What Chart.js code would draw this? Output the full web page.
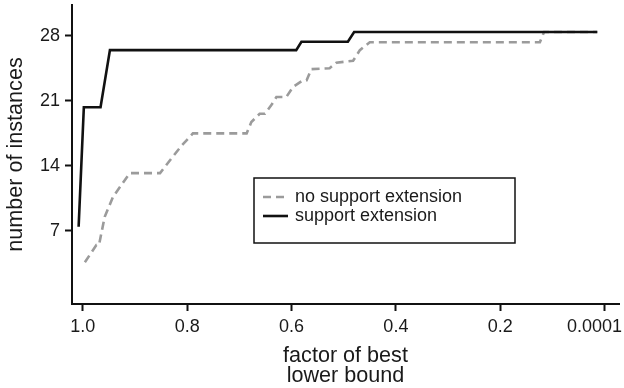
<!DOCTYPE html>
<html><head><meta charset="utf-8">
<script src="https://cdn.jsdelivr.net/npm/chart.js@4/dist/chart.umd.min.js"></script>
<style>html,body{margin:0;padding:0;background:#fff;} #wrap{width:624px;height:388px;}</style>
</head><body><div id="wrap"><canvas id="c" width="624" height="388"></canvas></div>
<script>
// ---- data ----
const xTickValues = [1.0, 0.8, 0.6, 0.4, 0.2, 0.0];
const xTickLabels = ["1.0", "0.8", "0.6", "0.4", "0.2", "0.0001"];
const yTickValues = [7, 14, 21, 28];
const seriesNames = ["no support extension", "support extension"];
const xTitle = ["factor of best", "lower bound"];
const yTitle = "number of instances";

const noExtX = [0.996, 0.974, 0.969, 0.958, 0.942, 0.910, 0.852, 0.830, 0.810, 0.789, 0.686, 0.677, 0.661, 0.651, 0.639, 0.629, 0.610, 0.597, 0.578, 0.571, 0.562, 0.527, 0.514, 0.482, 0.469, 0.450, 0.124, 0.116, 0.014];
const noExtY = [3.6, 5.46, 5.46, 8.5, 10.66, 13.2, 13.2, 14.8, 16.2, 17.48, 17.48, 18.7, 19.6, 19.6, 20.5, 21.4, 21.4, 22.5, 23.2, 23.2, 24.4, 24.5, 25.1, 25.3, 26.45, 27.3, 27.3, 28.4, 28.4];

const extX = [1.008, 0.998, 0.966, 0.948, 0.591, 0.581, 0.492, 0.480, 0.014];
const extY = [7.43, 20.3, 20.3, 26.45, 26.45, 27.35, 27.35, 28.4, 28.4];

// ---- chart ----
const FONT = "'Liberation Sans', Arial, Helvetica, sans-serif";
const toPts = (xs, ys) => xs.map((x, i) => ({x: x, y: ys[i]}));

const boxLegend = {
  id: 'boxLegend',
  afterDatasetsDraw(chart) {
    const ctx = chart.ctx, ca = chart.chartArea;
    const bx = ca.left + 182, by = ca.top + 173, bw = 261, bh = 65;
    ctx.save();
    ctx.lineWidth = 1.5;
    ctx.strokeStyle = '#111';
    ctx.strokeRect(bx, by, bw, bh);
    ctx.font = '18px ' + FONT;
    ctx.textBaseline = 'middle';
    ctx.textAlign = 'left';
    chart.data.datasets.forEach((ds, i) => {
      const yy = by + 19 + i * 19;
      ctx.beginPath();
      ctx.setLineDash(ds.borderDash || []);
      ctx.lineWidth = ds.borderWidth;
      ctx.strokeStyle = ds.borderColor;
      ctx.moveTo(bx + 9, yy);
      ctx.lineTo(bx + 34, yy);
      ctx.stroke();
      ctx.setLineDash([]);
      ctx.fillStyle = '#1a1a1a';
      ctx.fillText(ds.label, bx + 41, yy);
    });
    ctx.restore();
  }
};

// keep the last x tick label inside the canvas (as in the reference)
const keepLabelInside = {
  id: 'keepLabelInside',
  beforeDraw(chart) {
    const s = chart.scales.x;
    if (!s || !s.getLabelItems) return;
    const items = s.getLabelItems();
    const ctx = chart.ctx;
    items.forEach(it => {
      if (!it.options || !it.options.translation) return;
      ctx.save();
      ctx.font = it.font && it.font.string ? it.font.string : ('18px ' + FONT);
      const w = ctx.measureText(String(it.label)).width;
      ctx.restore();
      const maxX = chart.width - 2 - w / 2;
      if (it.options.translation[0] > maxX) it.options.translation[0] = maxX;
    });
  }
};

const noPad = (s) => { s.paddingLeft = 0; s.paddingRight = 0; s.paddingTop = 0; s.paddingBottom = 0; };

new Chart(document.getElementById('c'), {
  type: 'line',
  data: {
    datasets: [
      { label: seriesNames[0], data: toPts(noExtX, noExtY), order: 2, borderColor: '#9b9b9b', borderWidth: 2.6, borderDash: [8, 5], pointRadius: 0, tension: 0, fill: false },
      { label: seriesNames[1], data: toPts(extX, extY), order: 1, borderColor: '#111111', borderWidth: 2.6, pointRadius: 0, tension: 0, fill: false }
    ]
  },
  options: {
    responsive: false,
    animation: false,
    devicePixelRatio: 1,
    layout: { padding: { left: 0, right: 5, top: 5, bottom: 0 } },
    plugins: { legend: { display: false }, tooltip: { enabled: false } },
    scales: {
      x: {
        type: 'linear',
        reverse: true,
        min: -0.0276,
        max: 1.0207,
        afterBuildTicks: (s) => { s.ticks = xTickValues.map(v => ({ value: v })); },
        afterFit: (s) => { s.height = 84; noPad(s); },
        ticks: {
          autoSkip: false, maxRotation: 0, padding: 5,
          color: '#1a1a1a', font: { family: FONT, size: 18 },
          callback: (v, i) => xTickLabels[i]
        },
        grid: { display: true, drawOnChartArea: false, drawTicks: true, tickLength: 7, tickWidth: 2, tickColor: '#111' },
        border: { display: true, color: '#111', width: 2 },
        title: { display: true, text: xTitle, color: '#1a1a1a', font: { family: FONT, size: 21.6, lineHeight: 0.92 }, padding: { top: 0, bottom: 2.5 } }
      },
      y: {
        type: 'linear',
        min: -0.89,
        max: 31.31,
        afterBuildTicks: (s) => { s.ticks = yTickValues.map(v => ({ value: v })); },
        afterFit: (s) => { s.width = 72; noPad(s); },
        ticks: {
          padding: 5, color: '#1a1a1a', font: { family: FONT, size: 18 },
          callback: (v) => String(v)
        },
        grid: { display: true, drawOnChartArea: false, drawTicks: true, tickLength: 7, tickWidth: 2, tickColor: '#111' },
        border: { display: true, color: '#111', width: 2 },
        title: { display: true, text: yTitle, color: '#1a1a1a', font: { family: FONT, size: 21.6, lineHeight: 1.2 }, padding: { top: 3.5, bottom: 0 } }
      }
    }
  },
  plugins: [boxLegend, keepLabelInside]
});
</script>
</body></html>
